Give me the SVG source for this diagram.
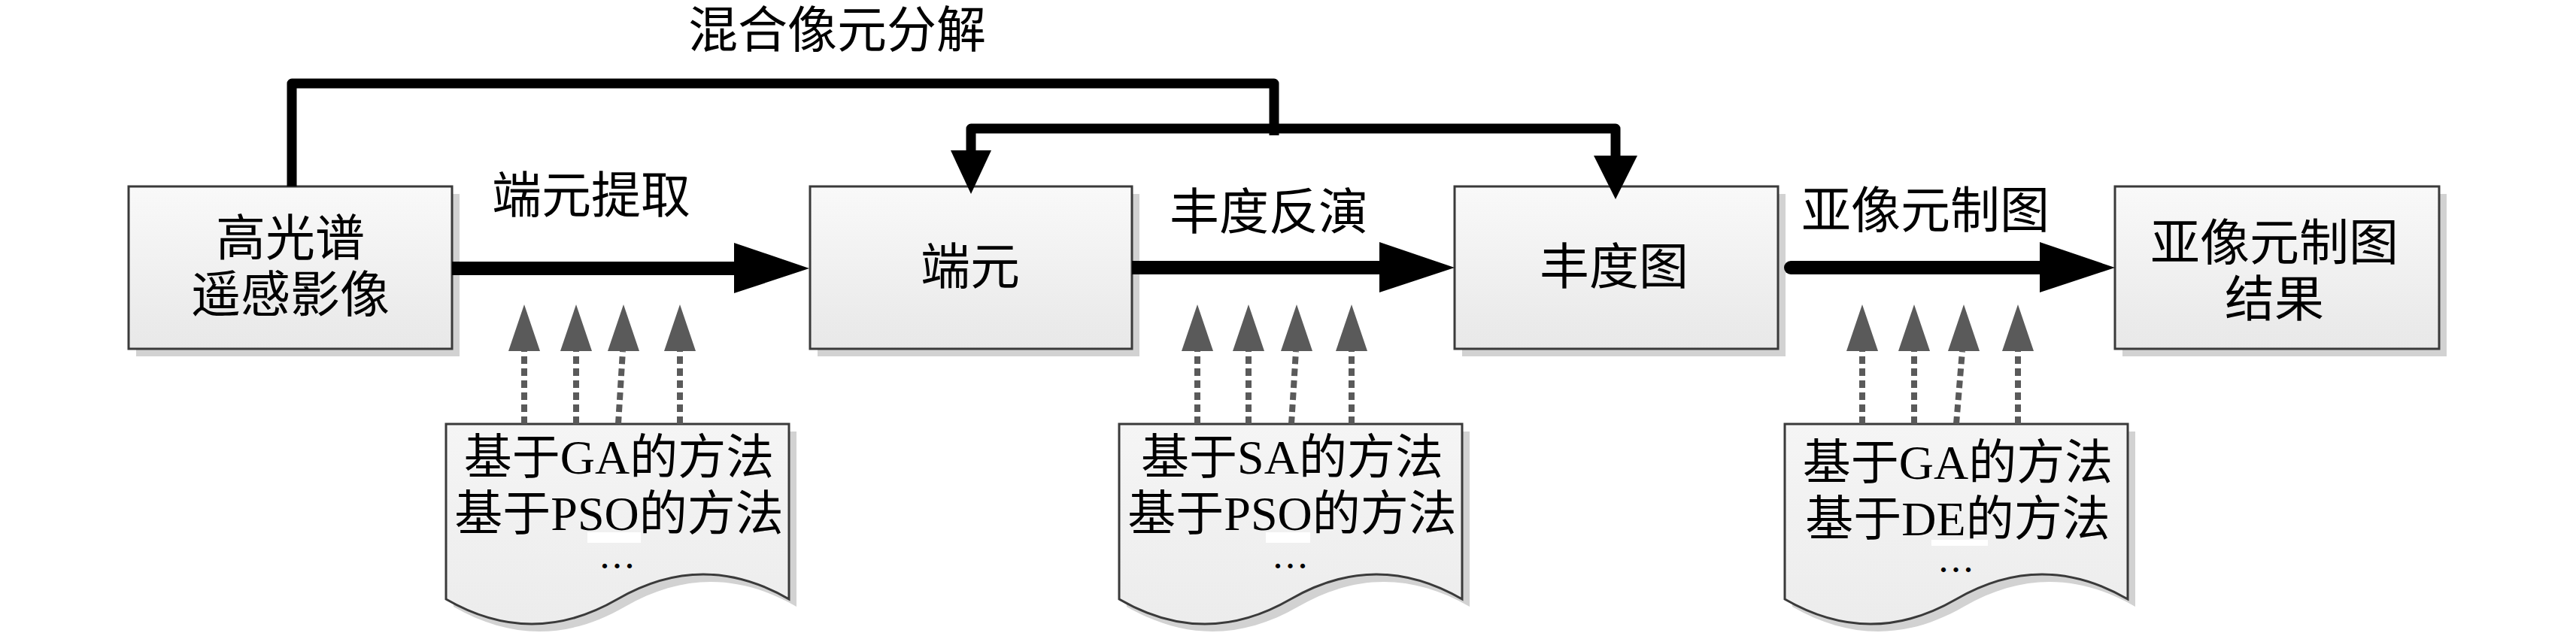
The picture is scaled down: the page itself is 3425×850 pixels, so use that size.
<svg xmlns="http://www.w3.org/2000/svg" width="3425" height="850" viewBox="0 0 3425 850">
<defs>
<linearGradient id="gBox" x1="0" y1="0" x2="0" y2="1">
<stop offset="0" stop-color="#f9f9f9"/>
<stop offset="1" stop-color="#e8e8e8"/>
</linearGradient>
<linearGradient id="gDoc" x1="0" y1="0" x2="0" y2="1">
<stop offset="0" stop-color="#f5f5f5"/>
<stop offset="1" stop-color="#ececec"/>
</linearGradient>
<path id="docShape" d="M0,0 H456 V233 C380,189 304,189 228,233 C152,277 76,277 0,233 Z"/>
</defs>
<style>
.box{fill:url(#gBox);stroke:#3a3a3a;stroke-width:3}
.shadow{fill:#d2d2d2}
.doc{fill:url(#gDoc);stroke:#3a3a3a;stroke-width:3}
.cjk{font-family:"Liberation Serif","Noto Sans CJK SC","Noto Sans CJK TC",serif;font-size:66px;fill:#000;text-anchor:middle}
.mix{font-family:"Liberation Serif","Noto Sans CJK SC",serif;font-size:64px;fill:#000;text-anchor:middle}
.dots{font-family:"Liberation Serif",serif;font-size:38px;font-weight:bold;letter-spacing:7px;fill:#000;text-anchor:middle}
.thick{fill:none;stroke:#000;stroke-width:13;stroke-linejoin:round;stroke-linecap:butt}
.shaft{fill:none;stroke:#000;stroke-width:18}
.head{fill:#000}
.dash{fill:none;stroke:#5a5a5a;stroke-width:8;stroke-dasharray:10 6}
.dhead{fill:#5a5a5a}
</style>
<rect width="3425" height="850" fill="#ffffff"/>

<g id="n1">
<rect class="shadow" x="181" y="258" width="430" height="216"/>
<rect class="box" x="171" y="248" width="430" height="216"/>
<text class="cjk" x="386" y="340">高光谱</text>
<text class="cjk" x="386" y="415">遥感影像</text>
</g>
<g id="n2">
<rect class="shadow" x="1087" y="258" width="428" height="216"/>
<rect class="box" x="1077" y="248" width="428" height="216"/>
<text class="cjk" x="1290" y="378">端元</text>
</g>
<g id="n3">
<rect class="shadow" x="1944" y="258" width="430" height="216"/>
<rect class="box" x="1934" y="248" width="430" height="216"/>
<text class="cjk" x="2146" y="378">丰度图</text>
</g>
<g id="n4">
<rect class="shadow" x="2822" y="258" width="431" height="216"/>
<rect class="box" x="2812" y="248" width="431" height="216"/>
<text class="cjk" x="3024" y="346">亚像元制图</text>
<text class="cjk" x="3024" y="421">结果</text>
</g>

<g id="d1">
<use href="#docShape" class="shadow" x="603" y="574"/>
<use href="#docShape" class="doc" x="593" y="564"/>
<text class="mix" x="823" y="630">基于GA的方法</text>
<text class="mix" x="823" y="705">基于PSO的方法</text>
<rect x="781" y="708" width="71" height="14" fill="#ffffff"/>
<text class="dots" x="824" y="756">...</text>
</g>
<g id="d2">
<use href="#docShape" class="shadow" x="1498" y="574"/>
<use href="#docShape" class="doc" x="1488" y="564"/>
<text class="mix" x="1718" y="630">基于SA的方法</text>
<text class="mix" x="1718" y="705">基于PSO的方法</text>
<rect x="1683" y="708" width="59" height="14" fill="#ffffff"/>
<text class="dots" x="1719" y="756">...</text>
</g>
<g id="d3">
<use href="#docShape" class="shadow" x="2383" y="574"/>
<use href="#docShape" class="doc" x="2373" y="564"/>
<text class="mix" x="2603" y="637">基于GA的方法</text>
<text class="mix" x="2603" y="712">基于DE的方法</text>
<rect x="2568" y="718" width="75" height="8" fill="#ffffff"/>
<text class="dots" x="2604" y="761">...</text>
</g>

<g id="connectors">
<path class="thick" d="M388,248 V111 H1694 V180"/>
<path class="thick" d="M1291,202 V171 H2148 V209"/>
<polygon class="head" points="1264,200 1318,200 1291,258"/>
<polygon class="head" points="2119,207 2177,207 2148,265"/>

<line class="shaft" x1="601" y1="357" x2="978" y2="357"/>
<polygon class="head" points="976,323 1076,357 976,390"/>
<line class="shaft" x1="1505" y1="356" x2="1836" y2="356"/>
<polygon class="head" points="1834,322 1934,356 1834,389"/>
<line class="shaft" x1="2381" y1="356" x2="2714" y2="356" stroke-linecap="round"/>
<polygon class="head" points="2712,322 2812,356 2712,389"/>

<line class="dash" x1="697" y1="564" x2="697" y2="467"/>
<polygon class="dhead" points="676,467 718,467 697,405"/>
<line class="dash" x1="766" y1="564" x2="766" y2="467"/>
<polygon class="dhead" points="745,467 787,467 766,405"/>
<line class="dash" x1="822" y1="564" x2="828" y2="467"/>
<polygon class="dhead" points="808,467 850,467 829,405"/>
<line class="dash" x1="904" y1="564" x2="904" y2="467"/>
<polygon class="dhead" points="883,467 925,467 904,405"/>

<line class="dash" x1="1592" y1="564" x2="1592" y2="467"/>
<polygon class="dhead" points="1571,467 1613,467 1592,405"/>
<line class="dash" x1="1660" y1="564" x2="1660" y2="467"/>
<polygon class="dhead" points="1639,467 1681,467 1660,405"/>
<line class="dash" x1="1717" y1="564" x2="1723" y2="467"/>
<polygon class="dhead" points="1703,467 1745,467 1724,405"/>
<line class="dash" x1="1797" y1="564" x2="1797" y2="467"/>
<polygon class="dhead" points="1776,467 1818,467 1797,405"/>

<line class="dash" x1="2476" y1="564" x2="2476" y2="467"/>
<polygon class="dhead" points="2455,467 2497,467 2476,405"/>
<line class="dash" x1="2545" y1="564" x2="2545" y2="467"/>
<polygon class="dhead" points="2524,467 2566,467 2545,405"/>
<line class="dash" x1="2601" y1="564" x2="2609" y2="467"/>
<polygon class="dhead" points="2590,467 2632,467 2611,405"/>
<line class="dash" x1="2683" y1="564" x2="2683" y2="467"/>
<polygon class="dhead" points="2662,467 2704,467 2683,405"/>

<text class="cjk" x="1113" y="63">混合像元分解</text>
<text class="cjk" x="786" y="283">端元提取</text>
<text class="cjk" x="1687" y="305">丰度反演</text>
<text class="cjk" x="2560" y="303">亚像元制图</text>
</g>
</svg>
